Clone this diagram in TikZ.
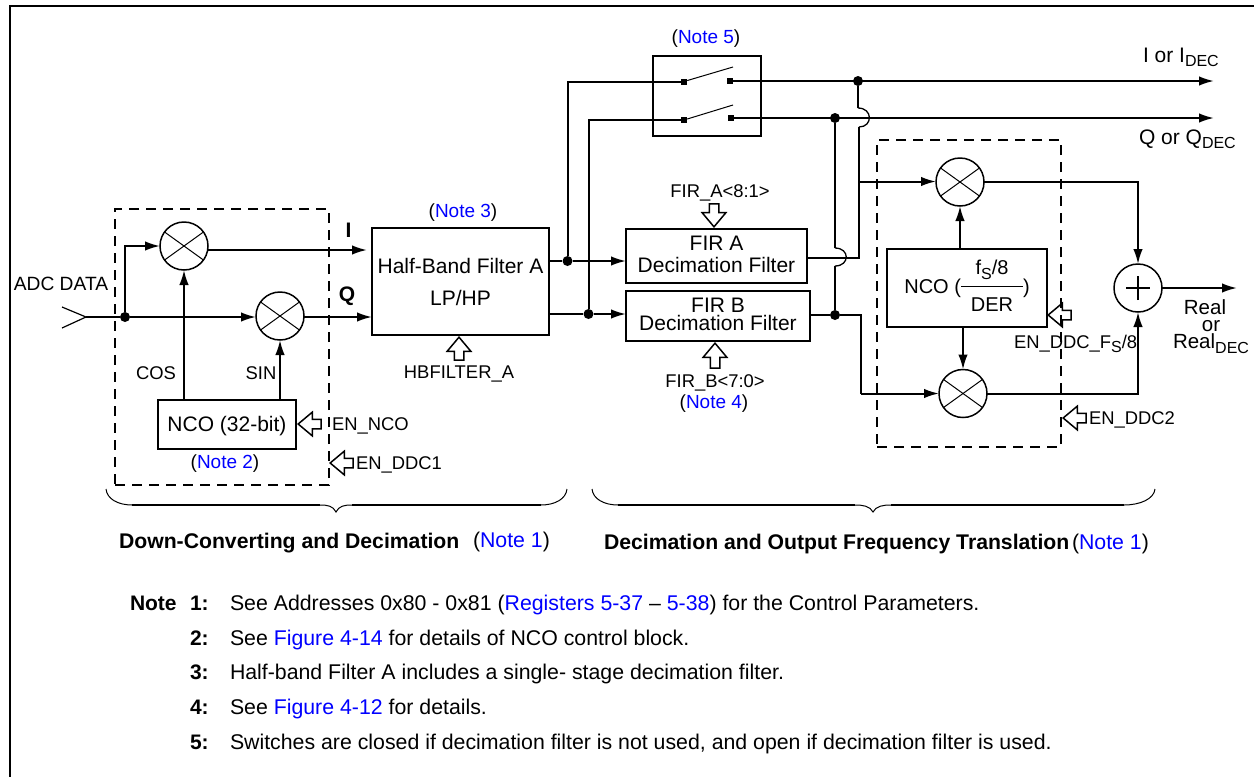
\documentclass[tikz,border=0pt]{standalone}
\usepackage{fontspec}
\setmainfont{Liberation Sans}
\usetikzlibrary{positioning, arrows.meta, shapes.arrows}

\definecolor{noteblue}{RGB}{0,0,255}
\newcommand{\noteref}[1]{\textcolor{noteblue}{#1}}
\newcommand{\fsz}[1]{\fontsize{#1}{#1}\selectfont}
\newcommand{\dropsub}[1]{\raisebox{-4.7pt}{\fsz{16}#1}}

\tikzset{
  wire/.style={line width=2pt},
  sig/.style={wire, -{Latex[length=15pt,width=9.5pt]}},
  block/.style={draw, line width=2pt, inner sep=0pt, outer sep=0pt, align=center, font=\fsz{21}},
  dashbox/.style={draw, line width=1.7pt, dash pattern=on 10pt off 7pt, inner sep=0pt},
  jct/.style={circle, fill=black, inner sep=0pt, minimum size=10pt},
  contact/.style={rectangle, fill=black, inner sep=0pt, minimum size=6pt},
  lbl/.style={inner sep=0pt, outer sep=0pt},
  headlbl/.style={lbl, anchor=base west, font=\fsz{21.2}\bfseries},
  notelbl/.style={lbl, anchor=base west, font=\fsz{21.3}},
  numlbl/.style={lbl, anchor=base west, font=\fsz{21}\bfseries},
  busarrow/.style={single arrow, draw, line width=1.5pt, inner sep=4pt, anchor=tip,
    minimum height=23pt, minimum width=20pt, single arrow tip angle=80},
  mixer/.style={circle, draw, line width=1.5pt, inner sep=0pt, outer sep=0pt, minimum size=48pt,
    path picture={
      \draw[line width=1pt] ([shift={(-25,-18)}]path picture bounding box.center)
        -- ([shift={(25,18)}]path picture bounding box.center);
      \draw[line width=1pt] ([shift={(-25,18)}]path picture bounding box.center)
        -- ([shift={(25,-18)}]path picture bounding box.center);}},
  adder/.style={circle, draw, line width=1.5pt, inner sep=0pt, outer sep=0pt, minimum size=48pt,
    path picture={
      \draw[line width=1.3pt] ([xshift=-12pt]path picture bounding box.center)
        -- ([xshift=12pt]path picture bounding box.center);
      \draw[line width=1.3pt] ([yshift=-12pt]path picture bounding box.center)
        -- ([yshift=12pt]path picture bounding box.center);}},
}

\begin{document}
\begin{tikzpicture}[x=1pt, y=-1pt, font=\fsz{18.4}]
  \useasboundingbox (0,0) rectangle (1254,777);
  \draw[line width=2pt] (9.5,777) -- (9.5,5.5) -- (1254,5.5);

  \node[dashbox, minimum width=214pt, minimum height=276pt] (ddcone) at (222,347) {};
  \node[dashbox, minimum width=184pt, minimum height=307pt] (ddctwo) at (969,293.5) {};

  \node[mixer] (mixi) at (184,246) {};
  \node[mixer] (mixq) at (280,316) {};
  \node[block, minimum width=138pt, minimum height=49pt] (nco) at (227,424.5)
    {\rule{0pt}{19pt}NCO (32-bit)};
  \node[block, minimum width=177pt, minimum height=107pt] (hb) at (460.5,281.5)
    {Half-Band Filter A \\[11pt] LP/HP\hspace{16pt}};
  \node[block, minimum width=181pt, minimum height=54pt] (fira) at (716.5,256)
    {FIR A \\[1pt] Decimation Filter\rule[-4pt]{0pt}{0pt}};
  \node[block, minimum width=184pt, minimum height=50pt] (firb) at (718,316)
    {FIR B \\[-3pt] Decimation Filter\rule[-4pt]{0pt}{0pt}};
  \node[block, minimum width=108pt, minimum height=80pt] (swbox) at (707,96) {};
  \node[mixer] (mixup) at (960,182) {};
  \node[mixer] (mixdn) at (963,393.5) {};
  \node[block, minimum width=160pt, minimum height=78pt, font=\fsz{20}] (ncofs) at (967,288)
    {NCO (\begin{tabular}{@{}c@{}}f\dropsub{S}/8\rule[-12pt]{0pt}{28pt}\\\hline\rule{0pt}{24.7pt}\makebox[62pt]{DER}\end{tabular})};
  \node[adder] (sum) at (1138,288) {};

  % switch contacts
  \node[contact] (swia) at (684,81.5) {};
  \node[contact] (swib) at (730,81) {};
  \node[contact] (swqa) at (684,120) {};
  \node[contact] (swqb) at (731,118) {};
  \coordinate (armi) at (733,67);
  \coordinate (armq) at (733,105);
  \draw[line width=1pt] (swia) -- (armi);
  \draw[line width=1pt] (swqa) -- (armq);

  % input and first mixers
  \coordinate (adcin) at (86,317);
  \coordinate (adcup) at (62,307);
  \coordinate (adcdn) at (62,328);
  \draw[line width=1.2pt] (adcup) -- (adcin) -- (adcdn);
  \node[jct] (split) at (125,317) {};
  \draw[wire] (adcin) -- (split);
  \draw[sig] (split) -- (split -| mixq.west);
  \draw[sig] (split) |- (mixi.west);
  \draw[sig] (split -| mixq.east) -- (split -| hb.west);
  \coordinate (iin) at (367,250);
  \draw[sig] (iin -| mixi.east) -- (iin);
  \draw[sig] (nco.north -| mixi) -- (mixi.south);
  \draw[sig] (nco.north -| mixq) -- (mixq.south);

  % half-band outputs
  \node[jct] (hbi) at (567.5,261) {};
  \node[jct] (hbq) at (588.5,314) {};
  \draw[wire] (hb.east |- hbi) -- (hbi);
  \draw[wire] (hb.east |- hbq) -- (hbq);
  \draw[sig] (hbi) -- (fira.west |- hbi);
  \draw[sig] (hbq) -- (firb.west |- hbq);
  \draw[wire] (hbi) |- (swia);
  \draw[wire] (hbq) |- (swqa);

  % outputs of the switches
  \coordinate (iout) at (1214,81);
  \coordinate (qout) at (1214,118);
  \draw[sig] (swib) -- (iout);
  \draw[sig] (swqb) -- (qout);
  \node[jct] (iup) at (858,81) {};
  \node[jct] (qup) at (835,118) {};
  \node[jct] (firbj) at (835,315) {};

  % wires with hops
  \coordinate (firaj) at (859,258);
  \coordinate (hopia) at (858,108);
  \coordinate (hopib) at (859,127);
  \coordinate (hopqa) at (835,248);
  \coordinate (hopqb) at (835,266);
  \draw[wire] (iup) -- (hopia);
  \draw[line width=1.3pt] (hopia) .. controls (873,108) and (873,127) .. (hopib);
  \draw[wire] (hopib) -- (firaj) -- (fira.east |- firaj);
  \draw[wire] (qup) -- (hopqa);
  \draw[line width=1.3pt] (hopqa) .. controls (850,248) and (850,266) .. (hopqb);
  \draw[wire] (hopqb) -- (firbj);
  \draw[wire] (firb.east |- firbj) -- (firbj);
  \coordinate (firbdn) at (861,393.5);
  \draw[wire] (firbj) -| (firbdn);
  \draw[sig] (firbdn) -- (mixdn.west);
  \coordinate (firaup) at (859,181.5);
  \draw[sig] (firaup) -- (mixup.west |- firaup);

  % second mixers and sum
  \draw[sig] (ncofs.north -| mixup) -- (mixup.south);
  \draw[sig] (ncofs.south -| mixdn) -- (mixdn.north);
  \draw[sig] (mixup.east) -| (sum.north);
  \draw[sig] (mixdn.east) -| (sum.south);
  \coordinate (realout) at (1237,288);
  \draw[sig] (sum.east) -- (realout);

  % hollow control arrows
  \node[busarrow, shape border rotate=180] (arrnco) at (297,424) {};
  \node[busarrow, shape border rotate=180] (arrddcone) at (329,463) {};
  \node[busarrow, shape border rotate=90] (arrhb) at (459,336) {};
  \node[busarrow, shape border rotate=270] (arrfira) at (714,228) {};
  \node[busarrow, shape border rotate=90, minimum height=25pt] (arrfirb) at (715,342) {};
  \node[busarrow, shape border rotate=180] (arrfs) at (1047,315) {};
  \node[busarrow, shape border rotate=180] (arrddctwo) at (1062,418) {};

  % labels
  \node[lbl, font=\fsz{19.2}] (adclbl) at (61,284) {ADC DATA};
  \node[lbl, font=\fsz{21}\bfseries] (ilbl) at (348.5,230) {I};
  \node[lbl, font=\fsz{21}\bfseries] (qlbl) at (347,296) {Q};
  \node[lbl] (coslbl) at (156,373) {COS};
  \node[lbl] (sinlbl) at (261,373) {SIN};
  \node[lbl, font=\fsz{19}] (notetwo) at (225,463.5) {(\noteref{Note 2})};
  \node[lbl, anchor=west] (enncolbl) at (332,426) {EN\_NCO};
  \node[lbl, anchor=west] (enddconelbl) at (356,464.5) {EN\_DDC1};
  \node[lbl, font=\fsz{19}] (notethree) at (463,213) {(\noteref{Note 3})};
  \node[lbl] (hblbl) at (459,373.5) {HBFILTER\_A};
  \node[lbl] (firalbl) at (720,192.5) {FIR\_A<8:1>};
  \node[lbl] (firblbl) at (715,383) {FIR\_B<7:0>};
  \node[lbl, font=\fsz{19}] (notefour) at (714,403.5) {(\noteref{Note 4})};
  \node[lbl, font=\fsz{19}] (notefive) at (706,38.5) {(\noteref{Note 5})};
  \node[lbl, anchor=base west, font=\fsz{21}] (ioutlbl) at (1143,62) {I or I\dropsub{DEC}};
  \node[lbl, anchor=base west, font=\fsz{21}] (qoutlbl) at (1139,144) {Q or Q\dropsub{DEC}};
  \node[lbl, anchor=base west] (enfslbl) at (1014,348) {EN\_DDC\_F\dropsub{S}/8};
  \node[lbl, anchor=west] (enddctwolbl) at (1089,419.5) {EN\_DDC2};
  \node[lbl, align=center, font=\fsz{20.5}, anchor=north] (reallbl) at (1211,299.5)
    {Real\hspace{12pt} \\[-3.5pt] or\hspace{10pt} \\[-3.5pt] Real\dropsub{DEC}};

  % braces
  \draw[line width=1pt] (106,489) .. controls (107,499) and (118,505) .. (132,505) -- (320,505)
    .. controls (328,505) and (333,506) .. (336,512) .. controls (339,506) and (344,505) .. (352,505)
    -- (541,505) .. controls (555,505) and (566,499) .. (567,489);
  \draw[line width=1pt] (592,489) .. controls (593,499) and (604,505) .. (618,505) -- (855,505)
    .. controls (863,505) and (870,506) .. (873,512) .. controls (876,506) and (883,505) .. (891,505)
    -- (1124,505) .. controls (1140,505) and (1154,499) .. (1155,489);
  \draw[wire] (132,505) -- (320,505) (352,505) -- (541,505);
  \draw[wire] (618,505) -- (855,505) (891,505) -- (1124,505);

  \node[headlbl] (downlbl) at (119,548) {Down-Converting and Decimation};
  \node[lbl, anchor=base west, font=\fsz{21.3}] (downnote) at (473,547) {(\noteref{Note 1})};
  \node[headlbl] (outlbl) at (604,549) {Decimation and Output Frequency Translation};
  \node[lbl, anchor=base west, font=\fsz{21.3}] (outnote) at (1072,549.5) {(\noteref{Note 1})};

  % notes
  \node[numlbl] (notehead) at (130,610) {Note};
  \node[numlbl] (numa) at (190,610) {1:};
  \node[numlbl] (numb) at (190,645) {2:};
  \node[numlbl] (numc) at (190,679) {3:};
  \node[numlbl] (numd) at (190,714) {4:};
  \node[numlbl] (nume) at (190,749) {5:};
  \node[notelbl] (texta) at (230,610)
    {See Addresses 0x80 - 0x81 (\noteref{Registers 5-37} – \noteref{5-38}) for the Control Parameters.};
  \node[notelbl] (textb) at (230,645)
    {See \noteref{Figure 4-14} for details of NCO control block.};
  \node[notelbl] (textc) at (230,679)
    {Half-band Filter A includes a single- stage decimation filter.};
  \node[notelbl] (textd) at (230,714)
    {See \noteref{Figure 4-12} for details.};
  \node[notelbl] (texte) at (230,749)
    {Switches are closed if decimation filter is not used, and open if decimation filter is used.};
\end{tikzpicture}
\end{document}
